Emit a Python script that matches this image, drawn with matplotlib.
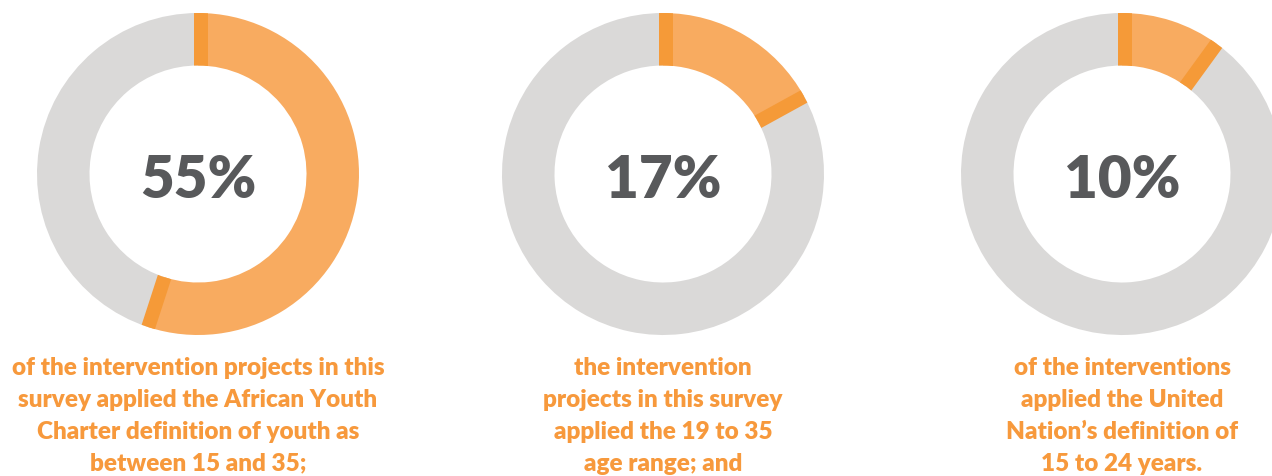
import matplotlib.pyplot as plt
from matplotlib.patches import Wedge
import numpy as np

# share of projects per youth definition
percents = [55, 17, 10]
captions = [
    "of the intervention projects in this\nsurvey applied the African Youth\nCharter definition of youth as\nbetween 15 and 35;",
    "the intervention\nprojects in this survey\napplied the 19 to 35\nage range; and",
    "of the interventions\napplied the United\nNation\u2019s definition of\n15 to 24 years.",
]

light_orange = '#F8AB60'
dark_orange = '#F59A38'
grey = '#DAD9D8'
text_orange = '#F7993C'
text_grey = '#58595B'

W, H = 1272, 477
fig = plt.figure(figsize=(W / 100, H / 100), dpi=100)
ax = fig.add_axes([0, 0, 1, 1])
ax.set_xlim(0, W)
ax.set_ylim(0, H)
ax.set_aspect('equal')
ax.axis('off')

centres_x = [198, 663, 1122]
cy = H - 175
r_out = 161
r_in = 108.5
ring = r_out - r_in

for cx, pct, cap in zip(centres_x, percents, captions):
    end = 90 - 360 * pct / 100
    ax.add_patch(Wedge((cx, cy), r_out, 90, end + 360, width=ring,
                       facecolor=grey, edgecolor='none'))
    ax.add_patch(Wedge((cx, cy), r_out, end, 90, width=ring,
                       facecolor=light_orange, edgecolor='none'))
    clip = Wedge((cx, cy), r_out, 0, 360, width=ring, transform=ax.transData)
    # darker strips on both edges of the orange slice
    for ang, shift in [(90, 3), (end, 0)]:
        a = np.deg2rad(ang)
        # shift the strip a little into the slice along the tangent
        tx, ty = np.sin(a), -np.cos(a)
        xs = [cx + (r_in - 5) * np.cos(a) + shift * tx, cx + (r_out + 5) * np.cos(a) + shift * tx]
        ys = [cy + (r_in - 5) * np.sin(a) + shift * ty, cy + (r_out + 5) * np.sin(a) + shift * ty]
        ln, = ax.plot(xs, ys, color=dark_orange, lw=14 * 0.72, solid_capstyle='butt')
        ln.set_clip_path(clip)

    ax.text(cx, cy - 5, f"{pct}%", ha='center', va='center', fontsize=42,
            fontweight='heavy', family='Lato', color=text_grey)
    ax.text(cx, H - 357, cap, ha='center', va='top', fontsize=17.5,
            fontweight='heavy', family='Lato', color=text_orange, linespacing=1.55)

fig.savefig('out.png', dpi=100)
